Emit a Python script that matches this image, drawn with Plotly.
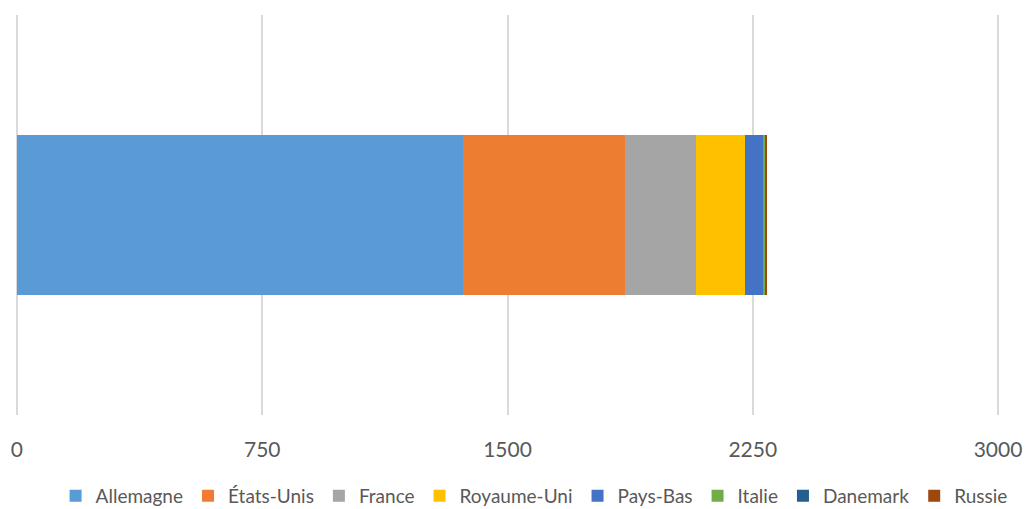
import plotly.graph_objects as go

categories = [""]
series_names = ["Allemagne", "États-Unis", "France", "Royaume-Uni", "Pays-Bas", "Italie", "Danemark", "Russie"]
series_values = [1363, 496, 217, 150, 55, 8, 1, 2]
colors = ["#5B9BD5", "#ED7D31", "#A5A5A5", "#FFC000", "#4472C4", "#70AD47", "#255E91", "#9E480E"]
tick_vals = [0, 750, 1500, 2250, 3000]

fig = go.Figure()
for name, val, col in zip(series_names, series_values, colors):
    fig.add_trace(go.Bar(
        y=categories, x=[val], name=name, orientation="h",
        marker=dict(color=col, line=dict(width=0)), width=0.4,
    ))

fig.update_layout(
    barmode="stack",
    width=1025, height=509,
    margin=dict(l=15, r=25, t=15, b=94, autoexpand=False),
    plot_bgcolor="white", paper_bgcolor="white",
    font=dict(family="Lato", size=19, color="#595959"),
    xaxis=dict(range=[-6, 3006], tickvals=tick_vals, showgrid=True,
               gridcolor="#D9D9D9", gridwidth=2, zeroline=False,
               showline=False, ticks="", ticklabelstandoff=20, automargin=False,
               tickfont=dict(family="Lato", size=21, color="#595959")),
    yaxis=dict(showticklabels=False, showgrid=False, zeroline=False,
               showline=False, range=[-0.5, 0.5], automargin=False),
    legend=dict(orientation="h", x=0.527, xanchor="center", y=-0.155,
                yanchor="top", font=dict(family="Lato", size=19, color="#595959"),
                traceorder="normal", itemwidth=30),
    bargap=0.6,
)

fig.write_html("out.html", config={"displayModeBar": False},
               post_script="document.body.style.margin='0px';")
